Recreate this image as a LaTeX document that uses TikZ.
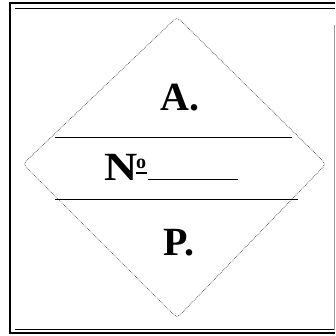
\documentclass[tikz,border=0pt]{standalone}
\usepackage{fontspec}
\setmainfont{Liberation Serif}
\begin{document}
\begin{tikzpicture}[x=1pt,y=-1pt,
  thickframe/.style={line width=2.4pt,black},
  thinframe/.style={line width=1pt,black},
  diamondline/.style={line width=0.7pt,black!70,densely dotted,rounded corners=4pt},
  bandline/.style={line width=1pt,black},
  label/.style={font=\fontsize{40}{40}\selectfont\bfseries,inner sep=0pt,anchor=base}]
\useasboundingbox (0,0) rectangle (335,336);
% frame
\coordinate (tl) at (10,3);
\coordinate (tr) at (335,3);
\coordinate (bl) at (10,333);
\coordinate (br) at (335,333);
\draw[thickframe] (tr) -- (tl) -- (bl) -- (br);
\coordinate (itl) at (15,8.5);
\coordinate (itr) at (335,8.5);
\coordinate (ibl) at (15,329);
\coordinate (ibr) at (335,329);
\draw[thinframe] (itl) -- (itr);
\draw[thinframe] (ibl) -- (ibr);
\coordinate (rt) at (334,25);
\coordinate (rb) at (334,330);
\draw[line width=0.8pt,black!40] (rt) -- (rb);
% diamond
\coordinate (dt) at (177,17);
\coordinate (dr) at (326,164);
\coordinate (db) at (177,318);
\coordinate (dl) at (23,164);
\draw[diamondline] (dt) -- (dr) -- (db) -- (dl) -- cycle;
% band lines
\coordinate (u1) at (55,138);
\coordinate (u2) at (292,138);
\coordinate (l1) at (55,199);
\coordinate (l2) at (298,199);
\draw[bandline] (u1) -- (u2);
\draw[bandline] (l1) -- (l2);
% labels
\node[label] (A) at (180,111) {A.};
\node[label,anchor=base west,xscale=1.15] (N) at (104,180) {N};
\node[font=\fontsize{20}{20}\selectfont\bfseries,inner sep=0pt,anchor=base west] (o) at (136,168) {o};
\coordinate (os) at (136,173);
\coordinate (oe) at (147,173);
\draw[line width=1.4pt] (os) -- (oe);
\coordinate (ns) at (148,180);
\coordinate (ne) at (238,180);
\draw[line width=1pt] (ns) -- (ne);
\node[label] (P) at (179,255) {P.};
\end{tikzpicture}
\end{document}
